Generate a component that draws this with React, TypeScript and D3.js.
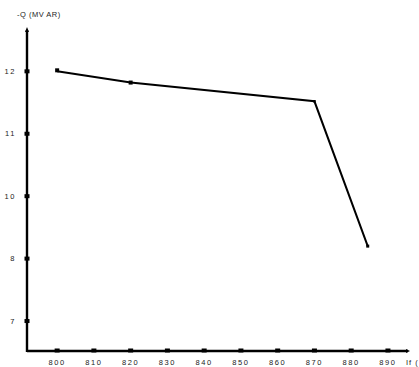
import React, { useRef, useEffect } from "react";
import * as d3 from "d3";

// reactive power vs. current
const xValues = [800, 820, 870, 884.5];
const yValues = [12.0, 11.82, 11.52, 9.2];
const xTicks = [800, 810, 820, 830, 840, 850, 860, 870, 880, 890];
const yTicks = [12, 11, 10, 9, 8];
// the original figure prints these labels on the y ticks
const yTickLabels = ["12", "11", "10", "8", "7"];
const yTitle = "-Q  (MV AR)";
const xTitle = "If (";

const App = () => {
    const ref = useRef<HTMLDivElement>(null);

    useEffect(() => {
        const width = 419;
        const height = 367;
        const x = d3.scaleLinear().domain([791.8, 896]).range([27, 410]);
        const y = d3.scaleLinear().domain([7.52, 12.71]).range([351, 27]);
        const font = "'Liberation Sans', Arial, sans-serif";

        const svg = d3.create("svg")
            .attr("width", width)
            .attr("height", height)
            .attr("viewBox", [0, 0, width, height])
            .style("display", "block");

        svg.append("rect").attr("width", width).attr("height", height).attr("fill", "#fff");

        const x0 = x(791.8);
        const yBase = y(7.52);

        // axes
        svg.append("line")
            .attr("x1", x0).attr("x2", x(896) - 2)
            .attr("y1", yBase).attr("y2", yBase)
            .attr("stroke", "#000").attr("stroke-width", 2.4);
        svg.append("line")
            .attr("x1", x0).attr("x2", x0)
            .attr("y1", yBase + 1).attr("y2", y(12.71) + 3)
            .attr("stroke", "#000").attr("stroke-width", 2.4);

        // arrow heads
        svg.append("path")
            .attr("d", `M${x0 - 2},${y(12.71) + 5}L${x0},${y(12.71)}L${x0 + 2},${y(12.71) + 5}Z`)
            .attr("fill", "#000");
        svg.append("path")
            .attr("d", `M${x(896) - 4},${yBase - 2}L${x(896)},${yBase}L${x(896) - 4},${yBase + 2}Z`)
            .attr("fill", "#000");

        // x ticks
        svg.append("g")
            .selectAll("rect")
            .data(xTicks)
            .join("rect")
            .attr("x", d => x(d) - 2.5)
            .attr("y", yBase - 2.5)
            .attr("width", 5)
            .attr("height", 4)
            .attr("fill", "#000");
        svg.append("g")
            .selectAll("text")
            .data(xTicks)
            .join("text")
            .attr("x", d => x(d))
            .attr("y", yBase + 14)
            .attr("text-anchor", "middle")
            .attr("font-family", font)
            .attr("font-size", 7.5)
            .attr("letter-spacing", 1.6)
            .attr("fill", "#222")
            .text(d => String(d));

        // y ticks
        svg.append("g")
            .selectAll("rect")
            .data(yTicks)
            .join("rect")
            .attr("x", x0 - 2.5)
            .attr("y", d => y(d) - 2)
            .attr("width", 5)
            .attr("height", 4)
            .attr("fill", "#000");
        svg.append("g")
            .selectAll("text")
            .data(yTicks)
            .join("text")
            .attr("x", 16)
            .attr("y", d => y(d))
            .attr("dy", "0.35em")
            .attr("text-anchor", "end")
            .attr("font-family", font)
            .attr("font-size", 7.5)
            .attr("letter-spacing", 1.6)
            .attr("fill", "#222")
            .text((d, i) => yTickLabels[i]);

        // titles
        svg.append("text")
            .attr("x", 17).attr("y", 17)
            .attr("font-family", font)
            .attr("font-size", 7.5)
            .attr("letter-spacing", 0.5)
            .attr("fill", "#222")
            .text(yTitle);
        svg.append("text")
            .attr("x", 406).attr("y", yBase + 14)
            .attr("font-family", font)
            .attr("font-size", 7.5)
            .attr("letter-spacing", 1)
            .attr("fill", "#222")
            .text(xTitle);

        // the curve
        const pts = xValues.map((v, i) => [v, yValues[i]] as [number, number]);
        const line = d3.line<[number, number]>().x(d => x(d[0])).y(d => y(d[1]));
        svg.append("path")
            .datum(pts)
            .attr("fill", "none")
            .attr("stroke", "#000")
            .attr("stroke-width", 2)
            .attr("d", line);

        const markerSize = [4, 4, 2.5, 3];
        svg.append("g")
            .selectAll("rect")
            .data(pts)
            .join("rect")
            .attr("x", (d, i) => x(d[0]) - markerSize[i] / 2)
            .attr("y", (d, i) => y(d[1]) - markerSize[i] / 2 - (i === 0 ? 1 : 0))
            .attr("width", (d, i) => markerSize[i])
            .attr("height", (d, i) => markerSize[i])
            .attr("fill", "#000");

        ref.current!.innerHTML = "";
        ref.current!.appendChild(svg.node()!);
    }, []);

    return <div ref={ref} style={{ position: "absolute", left: 0, top: 0 }} />;
};

export default App;
